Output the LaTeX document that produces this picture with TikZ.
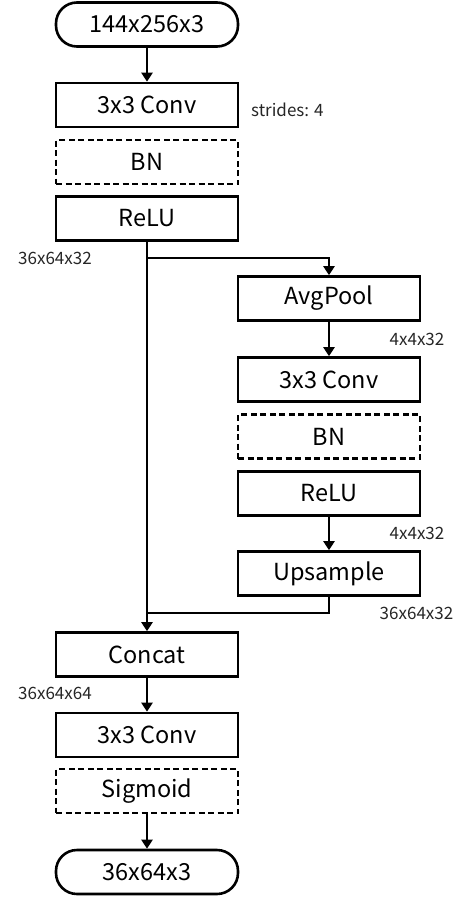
\documentclass[tikz,border=0pt]{standalone}
\usepackage{fontspec}
\setmainfont{Noto Sans CJK JP}
\usetikzlibrary{arrows.meta}
\begin{document}
\begin{tikzpicture}[x=1pt,y=-1pt,
  blk/.style={draw,line width=2.6pt,minimum width=182pt,minimum height=44pt,inner sep=0pt,font=\fontsize{23.5}{25}\selectfont},
  dbox/.style={blk,dash pattern=on 6pt off 3.5pt},
  term/.style={blk,rounded corners=21pt},
  lbl/.style={inner sep=0pt,text=black!85,font=\fontsize{17}{19}\selectfont},
  conn/.style={line width=2.4pt},
  arr/.style={conn,-{Triangle[length=9pt,width=11pt]}}]
\useasboundingbox (0,0) rectangle (473,903);
\node[term] (in) at (147,24.5) {144x256x3};
\node[blk] (c1) at (147,105) {3x3 Conv};
\node[dbox] (bn1) at (147,162) {BN};
\node[blk] (r1) at (147,218.5) {ReLU};
\node[blk] (avg) at (329,298.5) {AvgPool};
\node[blk] (c2) at (329,379.5) {3x3 Conv};
\node[dbox] (bn2) at (329,436.5) {BN};
\node[blk] (r2) at (329,493.5) {ReLU};
\node[blk] (up) at (329,573.5) {Upsample};
\node[blk] (cat) at (147,654.5) {Concat};
\node[blk] (c3) at (147,735) {3x3 Conv};
\node[dbox] (sg) at (147,791) {Sigmoid};
\node[term] (out) at (147,872) {36x64x3};
\node[lbl,anchor=west] (l1) at (251,110) {strides: 4};
\node[lbl] (l2) at (55,258) {36x64x32};
\node[lbl] (l3) at (417,339) {4x4x32};
\node[lbl] (l4) at (417,533) {4x4x32};
\node[lbl] (l5) at (416.5,613) {36x64x32};
\node[lbl] (l6) at (55,693) {36x64x64};
\coordinate (br) at (147,258);
\coordinate (jn) at (147,613);
\draw[arr] (in) -- (c1);
\draw[arr] (r1) -- (cat);
\draw[arr] (br) -| (avg.north);
\draw[arr] (avg) -- (c2);
\draw[arr] (r2) -- (up);
\draw[conn] (up.south) |- (jn);
\draw[arr] (cat) -- (c3);
\draw[arr] (sg) -- (out);
\end{tikzpicture}
\end{document}
